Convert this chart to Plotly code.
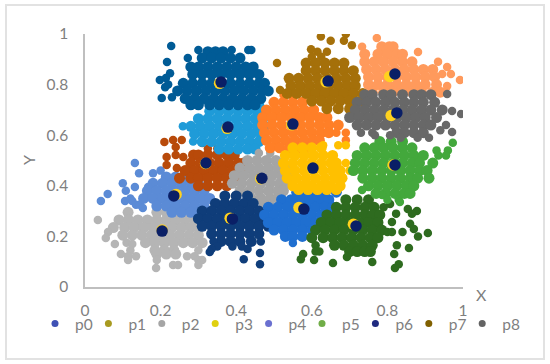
import plotly.graph_objects as go

legend_names = ["p0", "p1", "p2", "p3", "p4", "p5", "p6", "p7", "p8"]
legend_colors = ["#3f51b5", "#a89a20", "#a5a5a5", "#e0d010", "#6a70d0", "#70ad47", "#1f2a80", "#806000", "#636363"]
x_ticks = [0, 0.2, 0.4, 0.6, 0.8, 1]
x_tick_labels = ["0", "0.2", "0.4", "0.6", "0.8", "1"]
y_ticks = [0, 0.2, 0.4, 0.6, 0.8, 1]
y_tick_labels = ["0", "0.2", "0.4", "0.6", "0.8", "1"]

# clusters: rows of (y, [x...])
light_gray_rows = [
    (0.295, [0.114, 0.19, 0.215, 0.24]),
    (0.265, [0.034]),
    (0.265, [0.09, 0.115, 0.14, 0.165, 0.19, 0.215, 0.24, 0.265, 0.29]),
    (0.235, [0.075, 0.105, 0.13, 0.155, 0.18, 0.205, 0.23, 0.255, 0.28, 0.30]),
    (0.217, [0.061]),
    (0.205, [0.10, 0.125, 0.15, 0.175, 0.20, 0.225, 0.25, 0.275, 0.30]),
    (0.194, [0.055]),
    (0.175, [0.11]),
    (0.175, [0.16, 0.185, 0.21, 0.235, 0.26, 0.285, 0.31]),
    (0.17, [0.079, 0.125]),
    (0.145, [0.185, 0.21, 0.235]),
    (0.145, [0.12, 0.30]),
    (0.13, [0.095]),
    (0.13, [0.19, 0.215, 0.24]),
    (0.122, [0.114, 0.27]),
    (0.122, [0.29, 0.135]),
    (0.107, [0.114, 0.19]),
    (0.107, [0.30, 0.31]),
    (0.087, [0.233, 0.246]),
    (0.087, [0.30]),
    (0.075, [0.188]),
]
mid_blue_rows = [
    (0.49, [0.132]),
    (0.45, [0.143, 0.18]),
    (0.46, [0.2]),
    (0.435, [0.215, 0.24, 0.265]),
    (0.41, [0.10]),
    (0.41, [0.18, 0.205, 0.23, 0.255, 0.28, 0.30]),
    (0.395, [0.132, 0.167]),
    (0.38, [0.108]),
    (0.38, [0.165, 0.19, 0.215, 0.24, 0.265, 0.29, 0.315]),
    (0.368, [0.06]),
    (0.35, [0.12]),
    (0.35, [0.155, 0.18, 0.205, 0.23, 0.255, 0.28, 0.305, 0.33]),
    (0.34, [0.042, 0.106]),
    (0.34, [0.125]),
    (0.325, [0.135, 0.145]),
    (0.32, [0.19, 0.215, 0.24, 0.265, 0.29, 0.315]),
    (0.312, [0.153]),
    (0.295, [0.23, 0.255, 0.28, 0.30]),
]
rust_rows = [
    (0.581, [0.233, 0.256]),
    (0.573, [0.21]),
    (0.569, [0.31]),
    (0.553, [0.24]),
    (0.547, [0.325]),
    (0.547, [0.35, 0.38]),
    (0.522, [0.24]),
    (0.522, [0.287, 0.30, 0.325, 0.35, 0.375, 0.395]),
    (0.514, [0.216, 0.26]),
    (0.49, [0.28, 0.305, 0.33, 0.355, 0.38, 0.405, 0.42]),
    (0.482, [0.216]),
    (0.47, [0.243]),
    (0.46, [0.265, 0.29, 0.315, 0.34, 0.365, 0.39, 0.41]),
    (0.43, [0.25, 0.28, 0.30, 0.325, 0.35, 0.375, 0.395]),
    (0.40, [0.30, 0.325, 0.35, 0.375]),
]
sky_rows = [
    (0.72, [0.44, 0.463]),
    (0.695, [0.33, 0.355, 0.38, 0.405, 0.43, 0.455]),
    (0.665, [0.30, 0.325, 0.35, 0.375, 0.40, 0.425, 0.45, 0.47]),
    (0.635, [0.259]),
    (0.635, [0.28, 0.305, 0.33, 0.355, 0.38, 0.405, 0.43, 0.455, 0.475]),
    (0.605, [0.29, 0.315, 0.34, 0.365, 0.39, 0.415, 0.44, 0.465]),
    (0.575, [0.286]),
    (0.575, [0.31, 0.335, 0.36, 0.385, 0.41, 0.435, 0.46]),
    (0.545, [0.355, 0.38, 0.405, 0.43, 0.45]),
]
deep_blue_rows = [
    (0.953, [0.228]),
    (0.937, [0.30, 0.388]),
    (0.937, [0.432, 0.44]),
    (0.93, [0.325, 0.345, 0.365]),
    (0.905, [0.272]),
    (0.905, [0.31, 0.335, 0.36, 0.385, 0.41]),
    (0.889, [0.217]),
    (0.87, [0.28, 0.30, 0.325, 0.35, 0.375, 0.40, 0.425, 0.445]),
    (0.845, [0.225]),
    (0.84, [0.285, 0.31, 0.335, 0.36, 0.385, 0.41, 0.435, 0.46]),
    (0.826, [0.214]),
    (0.818, [0.198]),
    (0.805, [0.26, 0.285, 0.31, 0.335, 0.36, 0.385, 0.41, 0.435, 0.46, 0.475]),
    (0.80, [0.22]),
    (0.79, [0.212]),
    (0.775, [0.245, 0.27, 0.295, 0.32, 0.345, 0.37, 0.395, 0.42, 0.445, 0.47, 0.485]),
    (0.75, [0.23]),
    (0.747, [0.203]),
    (0.745, [0.265, 0.29, 0.315, 0.34, 0.365, 0.39, 0.415, 0.44, 0.465]),
    (0.72, [0.28, 0.30, 0.33, 0.355, 0.38, 0.405, 0.43, 0.45]),
]
silver_rows = [
    (0.53, [0.46, 0.49]),
    (0.50, [0.43, 0.455, 0.48, 0.505]),
    (0.47, [0.41, 0.435, 0.46, 0.485, 0.51, 0.535]),
    (0.44, [0.395, 0.42, 0.445, 0.47, 0.495, 0.52, 0.54]),
    (0.41, [0.39, 0.415, 0.44, 0.465, 0.49, 0.515, 0.535]),
    (0.38, [0.41, 0.435, 0.46, 0.485, 0.51, 0.525]),
    (0.35, [0.44, 0.465, 0.49, 0.51]),
    (0.33, [0.47, 0.49]),
]
navy_rows = [
    (0.36, [0.37, 0.40, 0.43]),
    (0.33, [0.345, 0.37, 0.395, 0.42, 0.445]),
    (0.30, [0.31, 0.335, 0.36, 0.385, 0.41, 0.435, 0.46]),
    (0.27, [0.30, 0.325, 0.35, 0.375, 0.40, 0.425, 0.45, 0.475]),
    (0.24, [0.31, 0.335, 0.36, 0.385, 0.41, 0.435, 0.46, 0.485]),
    (0.21, [0.335, 0.36, 0.385, 0.41, 0.435, 0.46]),
    (0.18, [0.36, 0.385, 0.41, 0.44]),
    (0.18, [0.34, 0.465]),
    (0.16, [0.35, 0.39]),
    (0.16, [0.415]),
    (0.15, [0.335, 0.43]),
    (0.138, [0.33]),
    (0.134, [0.463]),
    (0.11, [0.42]),
    (0.09, [0.463]),
]
blue_rows = [
    (0.375, [0.56, 0.585, 0.61, 0.635, 0.665]),
    (0.345, [0.52, 0.545, 0.57, 0.595, 0.62, 0.645]),
    (0.315, [0.485, 0.51, 0.535, 0.56, 0.585, 0.61, 0.635, 0.655]),
    (0.285, [0.475, 0.50, 0.525, 0.55, 0.575, 0.60, 0.625, 0.64]),
    (0.255, [0.485, 0.51, 0.535, 0.56, 0.585, 0.61, 0.625]),
    (0.225, [0.50, 0.525, 0.55, 0.575, 0.60]),
    (0.20, [0.53, 0.55, 0.575]),
    (0.174, [0.55]),
]
orange_rows = [
    (0.76, [0.525, 0.545]),
    (0.73, [0.50, 0.525, 0.55, 0.575]),
    (0.70, [0.48, 0.505, 0.53, 0.555, 0.58, 0.605]),
    (0.67, [0.47, 0.495, 0.52, 0.545, 0.57, 0.595, 0.62, 0.64]),
    (0.64, [0.47, 0.495, 0.52, 0.545, 0.57, 0.595, 0.62, 0.645, 0.67]),
    (0.61, [0.475, 0.50, 0.525, 0.55, 0.575, 0.60, 0.625, 0.645]),
    (0.61, [0.665, 0.69]),
    (0.58, [0.48, 0.505, 0.53, 0.555, 0.58, 0.605, 0.62]),
    (0.58, [0.69]),
    (0.55, [0.49, 0.515, 0.54, 0.565, 0.585]),
]
yellow_rows = [
    (0.56, [0.63]),
    (0.56, [0.67, 0.69]),
    (0.55, [0.55, 0.575, 0.60, 0.625]),
    (0.52, [0.53, 0.555, 0.58, 0.605, 0.63, 0.655]),
    (0.49, [0.525, 0.55, 0.575, 0.60, 0.625, 0.65, 0.665]),
    (0.49, [0.69]),
    (0.46, [0.53, 0.555, 0.58, 0.605, 0.63, 0.655, 0.675]),
    (0.46, [0.70]),
    (0.43, [0.535, 0.56, 0.585, 0.61, 0.635, 0.66, 0.68]),
    (0.40, [0.55, 0.575, 0.60, 0.625, 0.65, 0.675]),
    (0.385, [0.565, 0.59, 0.615, 0.64, 0.665]),
]
dark_green_rows = [
    (0.345, [0.69, 0.72, 0.75]),
    (0.328, [0.807]),
    (0.315, [0.665, 0.69, 0.715, 0.74, 0.765]),
    (0.315, [0.79]),
    (0.308, [0.854]),
    (0.30, [0.878]),
    (0.29, [0.823, 0.865]),
    (0.285, [0.64, 0.665, 0.69, 0.715, 0.74, 0.76, 0.78]),
    (0.257, [0.812]),
    (0.255, [0.625, 0.65, 0.675, 0.70, 0.725, 0.75, 0.775]),
    (0.25, [0.86]),
    (0.229, [0.87]),
    (0.225, [0.61, 0.635, 0.66, 0.685, 0.71, 0.735, 0.76, 0.785]),
    (0.217, [0.84, 0.80]),
    (0.217, [0.812]),
    (0.213, [0.907]),
    (0.20, [0.881]),
    (0.195, [0.60, 0.63, 0.655, 0.68, 0.705, 0.73, 0.755, 0.775]),
    (0.165, [0.66, 0.685, 0.71, 0.735, 0.76]),
    (0.165, [0.61, 0.825]),
    (0.154, [0.857]),
    (0.14, [0.70, 0.72, 0.74, 0.755]),
    (0.14, [0.61, 0.62]),
    (0.13, [0.577, 0.818]),
    (0.119, [0.693]),
    (0.11, [0.571]),
    (0.107, [0.606]),
    (0.099, [0.76]),
    (0.095, [0.656]),
    (0.09, [0.83]),
    (0.075, [0.82]),
]
green_rows = [
    (0.575, [0.78, 0.81, 0.84]),
    (0.57, [0.973]),
    (0.55, [0.74, 0.765, 0.79, 0.815, 0.84, 0.865]),
    (0.54, [0.96, 0.93]),
    (0.52, [0.72, 0.745, 0.77, 0.795, 0.82, 0.845, 0.87, 0.895]),
    (0.52, [0.955, 0.935]),
    (0.49, [0.715, 0.74, 0.765, 0.79, 0.815, 0.84, 0.865, 0.885, 0.92]),
    (0.46, [0.71, 0.735, 0.76, 0.785, 0.81, 0.835, 0.86, 0.885, 0.905]),
    (0.43, [0.735, 0.76, 0.785, 0.81, 0.835, 0.86, 0.88, 0.91]),
    (0.40, [0.75, 0.775, 0.80, 0.825, 0.85, 0.87]),
    (0.383, [0.733]),
    (0.37, [0.77, 0.795, 0.82, 0.845, 0.86]),
    (0.364, [0.786]),
    (0.345, [0.80, 0.83]),
    (0.336, [0.833]),
]
gold_rows = [
    (1.0, [0.69]),
    (0.99, [0.624]),
    (0.973, [0.65, 0.685]),
    (0.956, [0.706]),
    (0.94, [0.598]),
    (0.93, [0.615, 0.64]),
    (0.91, [0.60, 0.625]),
    (0.885, [0.508]),
    (0.885, [0.585, 0.61, 0.635, 0.66, 0.685]),
    (0.855, [0.585, 0.61, 0.635, 0.66, 0.685, 0.71]),
    (0.825, [0.54, 0.565, 0.59, 0.615, 0.64, 0.665, 0.69, 0.715]),
    (0.795, [0.545, 0.57, 0.595, 0.62, 0.645, 0.67, 0.695, 0.715]),
    (0.779, [0.516]),
    (0.765, [0.535, 0.56, 0.585, 0.61, 0.635, 0.66, 0.685, 0.71, 0.735]),
    (0.735, [0.60, 0.625, 0.65, 0.675, 0.70, 0.73]),
    (0.705, [0.64, 0.67, 0.70]),
]
peach_rows = [
    (0.984, [0.772]),
    (0.95, [0.733]),
    (0.95, [0.785, 0.805, 0.815]),
    (0.929, [0.881]),
    (0.92, [0.74, 0.775, 0.80, 0.825, 0.84]),
    (0.89, [0.74, 0.765, 0.79, 0.815, 0.84, 0.865]),
    (0.89, [0.934]),
    (0.87, [0.958]),
    (0.86, [0.745, 0.77, 0.795, 0.82, 0.845, 0.87, 0.895, 0.92]),
    (0.842, [0.945, 0.968]),
    (0.83, [0.75, 0.775, 0.80, 0.825, 0.85, 0.875, 0.90, 0.925]),
    (0.818, [0.992]),
    (0.80, [0.75, 0.775, 0.80, 0.825, 0.85, 0.875, 0.90, 0.93]),
    (0.794, [0.958]),
    (0.77, [0.76, 0.79, 0.815, 0.84, 0.865, 0.89, 0.92, 0.94]),
]
dark_gray_rows = [
    (0.763, [0.958]),
    (0.76, [0.74, 0.76, 0.79, 0.81, 0.84, 0.87, 0.89, 0.915]),
    (0.73, [0.72, 0.745, 0.77, 0.795, 0.82, 0.845, 0.87, 0.895, 0.925]),
    (0.70, [0.715, 0.74, 0.765, 0.79, 0.815, 0.84, 0.865, 0.89, 0.915, 0.945]),
    (0.696, [0.971]),
    (0.684, [0.995]),
    (0.67, [0.70, 0.725, 0.75, 0.775, 0.80, 0.825, 0.85, 0.875, 0.90, 0.93]),
    (0.64, [0.72, 0.745, 0.77, 0.795, 0.82, 0.845, 0.87, 0.895, 0.915]),
    (0.64, [0.955]),
    (0.62, [0.94]),
    (0.613, [0.971]),
    (0.61, [0.825, 0.845, 0.87, 0.895]),
    (0.61, [0.73, 0.76]),
    (0.60, [0.767, 0.807]),
    (0.59, [0.835]),
    (0.59, [0.88, 0.91]),
]
cluster_rows = [light_gray_rows, mid_blue_rows, rust_rows, sky_rows, deep_blue_rows, silver_rows,
                navy_rows, blue_rows, orange_rows, yellow_rows, dark_green_rows, green_rows,
                gold_rows, peach_rows, dark_gray_rows]
cluster_colors = ["#b5b5b5", "#5b8bd6", "#b84a0a", "#1f9bd8", "#005b96", "#a5a5a5",
                  "#0f3d7a", "#1f6fd0", "#ff7f27", "#ffc000", "#2e6b1f", "#43a83c",
                  "#a5700a", "#ff9a5c", "#686868"]

centroid_x = [0.36, 0.378, 0.32, 0.468, 0.235, 0.204, 0.39, 0.579, 0.717, 0.82, 0.603, 0.55, 0.643, 0.82, 0.825]
centroid_y = [0.81, 0.632, 0.49, 0.43, 0.36, 0.221, 0.269, 0.308, 0.241, 0.482, 0.47, 0.644, 0.814, 0.842, 0.688]
crescent_x = [0.356, 0.376, 0.319, 0.465, 0.241, 0.204, 0.384, 0.566, 0.71, 0.815, 0.601, 0.547, 0.638, 0.806, 0.81]
crescent_y = [0.805, 0.627, 0.488, 0.428, 0.366, 0.225, 0.272, 0.314, 0.248, 0.482, 0.469, 0.641, 0.811, 0.832, 0.678]

fig = go.Figure()
for rows, color in zip(cluster_rows, cluster_colors):
    xs = [x for y, row in rows for x in row]
    ys = [y for y, row in rows for x in row]
    sizes = [11 if len(row) >= 3 else 8.5 for y, row in rows for x in row]
    fig.add_trace(go.Scatter(x=xs, y=ys, mode="markers", showlegend=False, hoverinfo="skip",
                             marker=dict(color=color, size=sizes, opacity=1, line=dict(width=0))))
fig.add_trace(go.Scatter(x=crescent_x, y=crescent_y, mode="markers", showlegend=False,
                         marker=dict(color="#ffd21e", size=11.5)))
fig.add_trace(go.Scatter(x=centroid_x, y=centroid_y, mode="markers", showlegend=False,
                         marker=dict(color="#0a1f66", size=11.5)))
for name, color in zip(legend_names, legend_colors):
    fig.add_trace(go.Scatter(x=[None], y=[None], mode="markers", name=name,
                             marker=dict(color=color, size=7)))
# blank tail entry: keeps the last label from being clipped by the legend box
fig.add_trace(go.Scatter(x=[None], y=[None], mode="markers", name=" ",
                         marker=dict(color="rgba(0,0,0,0)", size=7)))

gray = "#7f7f7f"
axis_common = dict(range=[0, 1], showgrid=False, zeroline=False, showline=True, linecolor="#bfbfbf",
                   linewidth=1.5, ticks="outside", tickcolor="rgba(0,0,0,0)",
                   tickfont=dict(family="Lato", size=15.5, color=gray))
fig.update_xaxes(tickvals=x_ticks, ticktext=x_tick_labels, ticklen=9,
                 domain=[85 / 550, 463 / 550], **axis_common)
fig.update_yaxes(tickvals=y_ticks, ticktext=y_tick_labels, ticklen=12,
                 domain=[(364 - 287) / 364, (364 - 34) / 364], **axis_common)
fig.update_layout(
    width=550, height=364, autosize=False,
    margin=dict(l=0, r=0, t=0, b=0, autoexpand=False),
    paper_bgcolor="white", plot_bgcolor="white",
    legend=dict(orientation="h", x=35 / 550, y=(364 - 307) / 364, xanchor="left", yanchor="top",
                entrywidth=8.4, entrywidthmode="pixels", itemwidth=30, bgcolor="rgba(0,0,0,0)",
                font=dict(family="Lato", size=15.5, color=gray), traceorder="normal"),
    shapes=[dict(type="rect", xref="paper", yref="paper",
                 x0=6 / 550, x1=544 / 550, y0=(364 - 359) / 364, y1=(364 - 5) / 364,
                 line=dict(color="#e2e2e2", width=2), layer="below")],
    annotations=[
        dict(text="X", xref="paper", yref="paper", x=481 / 550, y=(364 - 294) / 364,
             xanchor="center", yanchor="middle",
             showarrow=False, font=dict(family="Lato", size=16, color=gray)),
        dict(text="Y", xref="paper", yref="paper", x=28 / 550, y=(364 - 160) / 364,
             xanchor="center", yanchor="middle",
             textangle=-90, showarrow=False, font=dict(family="Lato", size=16, color=gray)),
    ],
)
fig.write_html("out.html", post_script="document.body.style.margin='0';",
               config=dict(displayModeBar=False))
